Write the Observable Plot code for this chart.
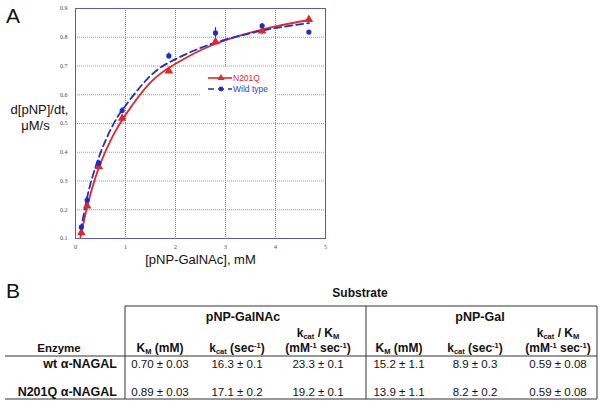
<!DOCTYPE html>
<html><head><meta charset="utf-8">
<script src="https://cdn.jsdelivr.net/npm/d3@7"></script>
<script src="https://cdn.jsdelivr.net/npm/@observablehq/plot@0.6"></script>
<style>
body{margin:0;background:#fff;font-family:"Liberation Sans",Arial,Helvetica,sans-serif;}
#wrap{position:relative;width:601px;height:403px;overflow:hidden;background:#fff;}
#wrap svg{position:absolute;left:0;top:0;}
</style></head><body><div id="wrap"></div>
<script>
// ---- Panel A data ----
const substrate = [0.117, 0.233, 0.467, 0.933, 1.867, 2.8, 3.733, 4.667];
const n201qRate = [0.120, 0.213, 0.350, 0.518, 0.683, 0.784, 0.822, 0.862];
const n201qErr  = [0.008, 0.008, 0.008, 0.010, 0.010, 0.010, 0.012, 0.005];
const wtRate    = [0.140, 0.234, 0.362, 0.545, 0.735, 0.815, 0.840, 0.818];
const wtErr     = [0.010, 0.010, 0.010, 0.010, 0.010, 0.018, 0.008, 0.005];
const fitX      = [0.1, 0.2, 0.3, 0.5, 0.75, 1.0, 1.5, 2.0, 2.5, 3.0, 3.5, 4.0, 4.67];
const n201qFit  = [0.105, 0.186, 0.255, 0.362, 0.458, 0.530, 0.643, 0.708, 0.755, 0.790, 0.816, 0.838, 0.860];
const wtFit     = [0.125, 0.215, 0.290, 0.398, 0.495, 0.562, 0.666, 0.724, 0.763, 0.792, 0.814, 0.832, 0.849];
const xTicks = [0, 1, 2, 3, 4, 5];
const yTicks = [0.1, 0.2, 0.3, 0.4, 0.5, 0.6, 0.7, 0.8, 0.9];
const seriesNames = ["N201Q", "Wild type"];
const xLabel = "[pNP-GalNAc], mM";
const yLabel = ["d[pNP]/dt,", "\u03BCM/s"];

// ---- Panel B data ----
const tableTitle = "Substrate";
const substrates = ["pNP-GalNAc", "pNP-Gal"];
const enzymes = ["wt \u03B1-NAGAL", "N201Q \u03B1-NAGAL"];
const galnacKm   = ["0.70 \u00B1 0.03", "0.89 \u00B1 0.03"];
const galnacKcat = ["16.3 \u00B1 0.1", "17.1 \u00B1 0.2"];
const galnacEff  = ["23.3 \u00B1 0.1", "19.2 \u00B1 0.1"];
const galKm      = ["15.2 \u00B1 1.1", "13.9 \u00B1 1.1"];
const galKcat    = ["8.9 \u00B1 0.3", "8.2 \u00B1 0.2"];
const galEff     = ["0.59 \u00B1 0.08", "0.59 \u00B1 0.08"];

const RED = "#e3262b", BLUE = "#1c2fc4";
const SANS = "'Liberation Sans', Arial, sans-serif";
const pts = substrate.map((s, i) => ({s, n: n201qRate[i], ne: n201qErr[i], w: wtRate[i], we: wtErr[i]}));
const fits = fitX.map((x, i) => ({x, n: n201qFit[i], w: wtFit[i]}));

const chart = Plot.plot({
  width: 601, height: 270,
  marginLeft: 75, marginRight: 276, marginTop: 8, marginBottom: 32,
  x: {domain: [0, 5]},
  y: {domain: [0.1, 0.9]},
  style: {fontFamily: "'Liberation Serif', serif", fontSize: "6px", color: "#444", background: "transparent"},
  marks: [
    Plot.ruleX(xTicks.slice(1, -1), {stroke: "#6a78d8", strokeDasharray: "1,1", strokeWidth: 1}),
    Plot.ruleY(yTicks.slice(1, -1), {stroke: "#999", strokeDasharray: "1,1", strokeWidth: 1}),
    Plot.frame({stroke: "#5a5aaa", strokeWidth: 1}),
    Plot.axisX(xTicks, {tickSize: 0, tickPadding: 6, label: null}),
    Plot.axisY(yTicks, {tickSize: 0, tickPadding: 8, tickFormat: d3.format(".1f"), label: null}),
    Plot.line(fits, {x: "x", y: "n", stroke: RED, strokeWidth: 1.8, curve: "natural"}),
    Plot.line(fits, {x: "x", y: "w", stroke: BLUE, strokeWidth: 1.8, strokeDasharray: "7,4", curve: "natural"}),
    Plot.ruleX(pts, {x: "s", y1: d => d.n - d.ne, y2: d => d.n + d.ne, stroke: RED, strokeWidth: 1.2}),
    Plot.ruleX(pts, {x: "s", y1: d => d.w - d.we, y2: d => d.w + d.we, stroke: BLUE, strokeWidth: 1.2}),
    Plot.dot(pts, {x: "s", y: "n", symbol: "triangle", r: 3.2, fill: RED, stroke: "none"}),
    Plot.dot(pts, {x: "s", y: "w", r: 2.6, fill: BLUE, stroke: "none"}),
    Plot.text([xLabel], {frameAnchor: "bottom", textAnchor: "middle", dy: 25, fontSize: 13, fontFamily: SANS, fill: "#111"}),
    Plot.text([yLabel[0]], {frameAnchor: "left", textAnchor: "middle", dx: -36, dy: -14, fontSize: 13, fontFamily: SANS, fill: "#111"}),
    Plot.text([yLabel[1]], {frameAnchor: "left", textAnchor: "middle", dx: -40, dy: 2, fontSize: 13, fontFamily: SANS, fill: "#111"})
  ]
});
document.getElementById("wrap").appendChild(chart);

// ---- overlay: panel letters, legend, table ----
const svg = d3.select("#wrap").append("svg").attr("width", 601).attr("height", 403)
  .style("font-family", SANS);

svg.append("text").attr("x", 6).attr("y", 23).attr("font-size", 21).attr("fill", "#111").text("A");
svg.append("text").attr("x", 6).attr("y", 298).attr("font-size", 21).attr("fill", "#111").text("B");

// legend
const lg = svg.append("g");
lg.append("rect").attr("x", 200).attr("y", 68).attr("width", 74).attr("height", 31).attr("fill", "#fff");
lg.append("line").attr("x1", 208).attr("x2", 232).attr("y1", 78).attr("y2", 78).attr("stroke", RED).attr("stroke-width", 1.6);
lg.append("path").attr("d", d3.symbol(d3.symbolTriangle, 22)()).attr("transform", "translate(221,78)").attr("fill", RED);
lg.append("text").attr("x", 233).attr("y", 81).attr("font-size", 8.5).attr("fill", RED).text(seriesNames[0]);
lg.append("line").attr("x1", 208).attr("x2", 232).attr("y1", 89).attr("y2", 89).attr("stroke", BLUE).attr("stroke-width", 1.6).attr("stroke-dasharray", "6,4");
lg.append("circle").attr("cx", 221).attr("cy", 89).attr("r", 2.4).attr("fill", BLUE);
lg.append("text").attr("x", 233).attr("y", 92).attr("font-size", 8.5).attr("fill", "#3040c8").text(seriesNames[1]);

// table
const tb = svg.append("g").attr("fill", "#111");
const ln = (x1, y1, x2, y2) => tb.append("line").attr("x1", x1).attr("y1", y1).attr("x2", x2).attr("y2", y2).attr("stroke", "#333").attr("stroke-width", 1);
ln(125, 306, 597, 306); ln(5, 356, 597, 356); ln(5, 399, 597, 399);
ln(125, 306, 125, 399); ln(366, 306, 366, 399); ln(597, 306, 597, 399);

tb.append("text").attr("x", 360).attr("y", 297).attr("text-anchor", "middle").attr("font-size", 12).attr("font-weight", "bold").text(tableTitle);
tb.append("text").attr("x", 243).attr("y", 321).attr("text-anchor", "middle").attr("font-size", 12.5).attr("font-weight", "bold").text(substrates[0]);
tb.append("text").attr("x", 480).attr("y", 321).attr("text-anchor", "middle").attr("font-size", 12.5).attr("font-weight", "bold").text(substrates[1]);
tb.append("text").attr("x", 59).attr("y", 352).attr("text-anchor", "middle").attr("font-size", 11.5).attr("font-weight", "bold").text("Enzyme");

function rich(x, y, parts) {
  const t = tb.append("text").attr("x", x).attr("y", y).attr("text-anchor", "middle").attr("font-size", 12).attr("font-weight", "bold");
  parts.forEach(p => {
    const s = t.append("tspan").text(p[0]);
    if (p[1] === "sub") s.attr("font-size", 7.5).attr("baseline-shift", "-2");
    if (p[1] === "sup") s.attr("font-size", 7.5).attr("baseline-shift", "4");
  });
}
const hKm = [["K"], ["M", "sub"], [" (mM)"]];
const hKcat = [["k"], ["cat", "sub"], [" (sec"], ["-1", "sup"], [")"]];
const hEff1 = [["k"], ["cat", "sub"], [" / K"], ["M", "sub"]];
const hEff2 = [["(mM"], ["-1", "sup"], [" sec"], ["-1", "sup"], [")"]];
const cols = [160, 237, 318, 399, 475, 558];
[0, 1].forEach(g => {
  rich(cols[g * 3], 352, hKm);
  rich(cols[g * 3 + 1], 352, hKcat);
  rich(cols[g * 3 + 2], 337, hEff1);
  rich(cols[g * 3 + 2], 352, hEff2);
});
const rowsY = [368, 396];
const colsData = [galnacKm, galnacKcat, galnacEff, galKm, galKcat, galEff];
enzymes.forEach((e, i) => {
  tb.append("text").attr("x", 117).attr("y", rowsY[i]).attr("text-anchor", "end").attr("font-size", 12.5).attr("font-weight", "bold").text(e);
  colsData.forEach((c, j) => {
    tb.append("text").attr("x", cols[j]).attr("y", rowsY[i]).attr("text-anchor", "middle").attr("font-size", 11.5).text(c[i]);
  });
});
</script></body></html>
